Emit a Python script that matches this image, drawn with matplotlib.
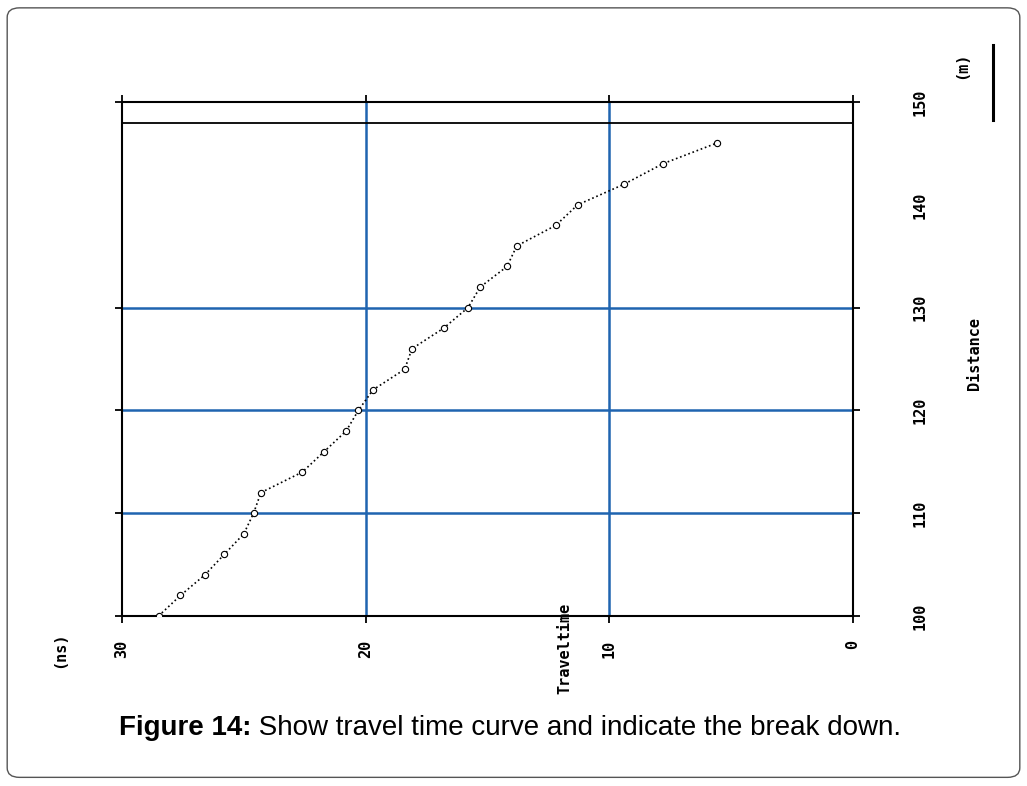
import matplotlib.pyplot as plt
from matplotlib.patches import FancyBboxPatch

# travel time (ns) vs distance (m)
distance = [100, 102, 104, 106, 108, 110, 112, 114, 116, 118, 120, 122,
            124, 126, 128, 130, 132, 134, 136, 138, 140, 142, 144, 146]
travel_time = [28.5, 27.6, 26.6, 25.8, 25.0, 24.6, 24.3, 22.6, 21.7, 20.8, 20.3, 19.7,
               18.4, 18.1, 16.8, 15.8, 15.3, 14.2, 13.8, 12.2, 11.3, 9.4, 7.8, 5.6]

time_ticks = [30, 20, 10, 0]
dist_ticks = [100, 110, 120, 130, 140, 150]
break_line = 148

grid_blue = "#1f64b0"
label_font = ["DejaVu Sans Mono", "DejaVu Sans"]

fig = plt.figure(figsize=(10.27, 7.86), dpi=100)

frame = FancyBboxPatch((0.007, 0.011), 0.986, 0.979, boxstyle="round,pad=0,rounding_size=0.012",
                       transform=fig.transFigure, facecolor="none", edgecolor="#555555",
                       linewidth=1.0, zorder=-1)
fig.patches.append(frame)

ax = fig.add_axes([0.1188, 0.2163, 0.7118, 0.6539])
ax.patch.set_alpha(0)
ax.set_xlim(30, 0)
ax.set_ylim(100, 150)

for t in [20, 10]:
    ax.axvline(t, color=grid_blue, lw=1.8, zorder=1)
for d in [110, 120, 130]:
    ax.axhline(d, color=grid_blue, lw=1.8, zorder=1)
ax.axhline(break_line, color="black", lw=1.3, zorder=2)

ax.plot(travel_time, distance, color="black", lw=1.2, ls=":", marker="o",
        markersize=4.5, markerfacecolor="white", markeredgecolor="black",
        markeredgewidth=0.8, zorder=3)

for s in ax.spines.values():
    s.set_linewidth(1.5)

ax.set_xticks(time_ticks)
ax.set_xticklabels([str(t) for t in time_ticks])
ax.set_yticks(dist_ticks)
ax.set_yticklabels([str(d) for d in dist_ticks])
ax.tick_params(axis="x", direction="out", length=5, width=1.3, top=True, bottom=True,
               labelbottom=True, labelrotation=90, pad=12)
ax.tick_params(axis="y", direction="out", length=5, width=1.3, left=True, right=True,
               labelleft=False, labelright=True, labelrotation=90, pad=43)
# the reference has no tick mark at 140
tick140 = ax.yaxis.get_major_ticks()[4]
tick140.tick1line.set_visible(False)
tick140.tick2line.set_visible(False)

for lab in ax.get_xticklabels() + ax.get_yticklabels():
    lab.set_family(label_font)
    lab.set_fontsize(11)
    lab.set_fontweight("bold")
for lab in ax.get_yticklabels():
    lab.set_verticalalignment("center")
    lab.set_horizontalalignment("center")

fig.text(60 / 1027, 1 - 650 / 786, "(ns)", rotation=90, ha="center", va="center",
         family=label_font, fontsize=11, fontweight="bold")
fig.text(565 / 1027, 1 - 648 / 786, "Traveltime", rotation=90, ha="center", va="center",
         family=label_font, fontsize=11, fontweight="bold")
fig.text(975 / 1027, 1 - 353 / 786, "Distance", rotation=90, ha="center", va="center",
         family=label_font, fontsize=11, fontweight="bold")
fig.text(962 / 1027, 1 - 65 / 786, "(m)", rotation=90, ha="center", va="center",
         family=label_font, fontsize=11, fontweight="bold")
fig.add_artist(plt.Line2D([993 / 1027, 993 / 1027], [1 - 45 / 786, 1 - 120 / 786],
                          color="black", lw=2.2, transform=fig.transFigure))

cap = fig.text(119 / 1027, 1 - 728 / 786, "Figure 14:", ha="left", va="center",
               fontsize=20, family="Liberation Sans", fontweight="bold")
ax.annotate(" Show travel time curve and indicate the break down.", xy=(1, 0.5),
            xycoords=cap, ha="left", va="center", fontsize=20, family="Liberation Sans",
            annotation_clip=False)

fig.savefig("out.png", dpi=100)
